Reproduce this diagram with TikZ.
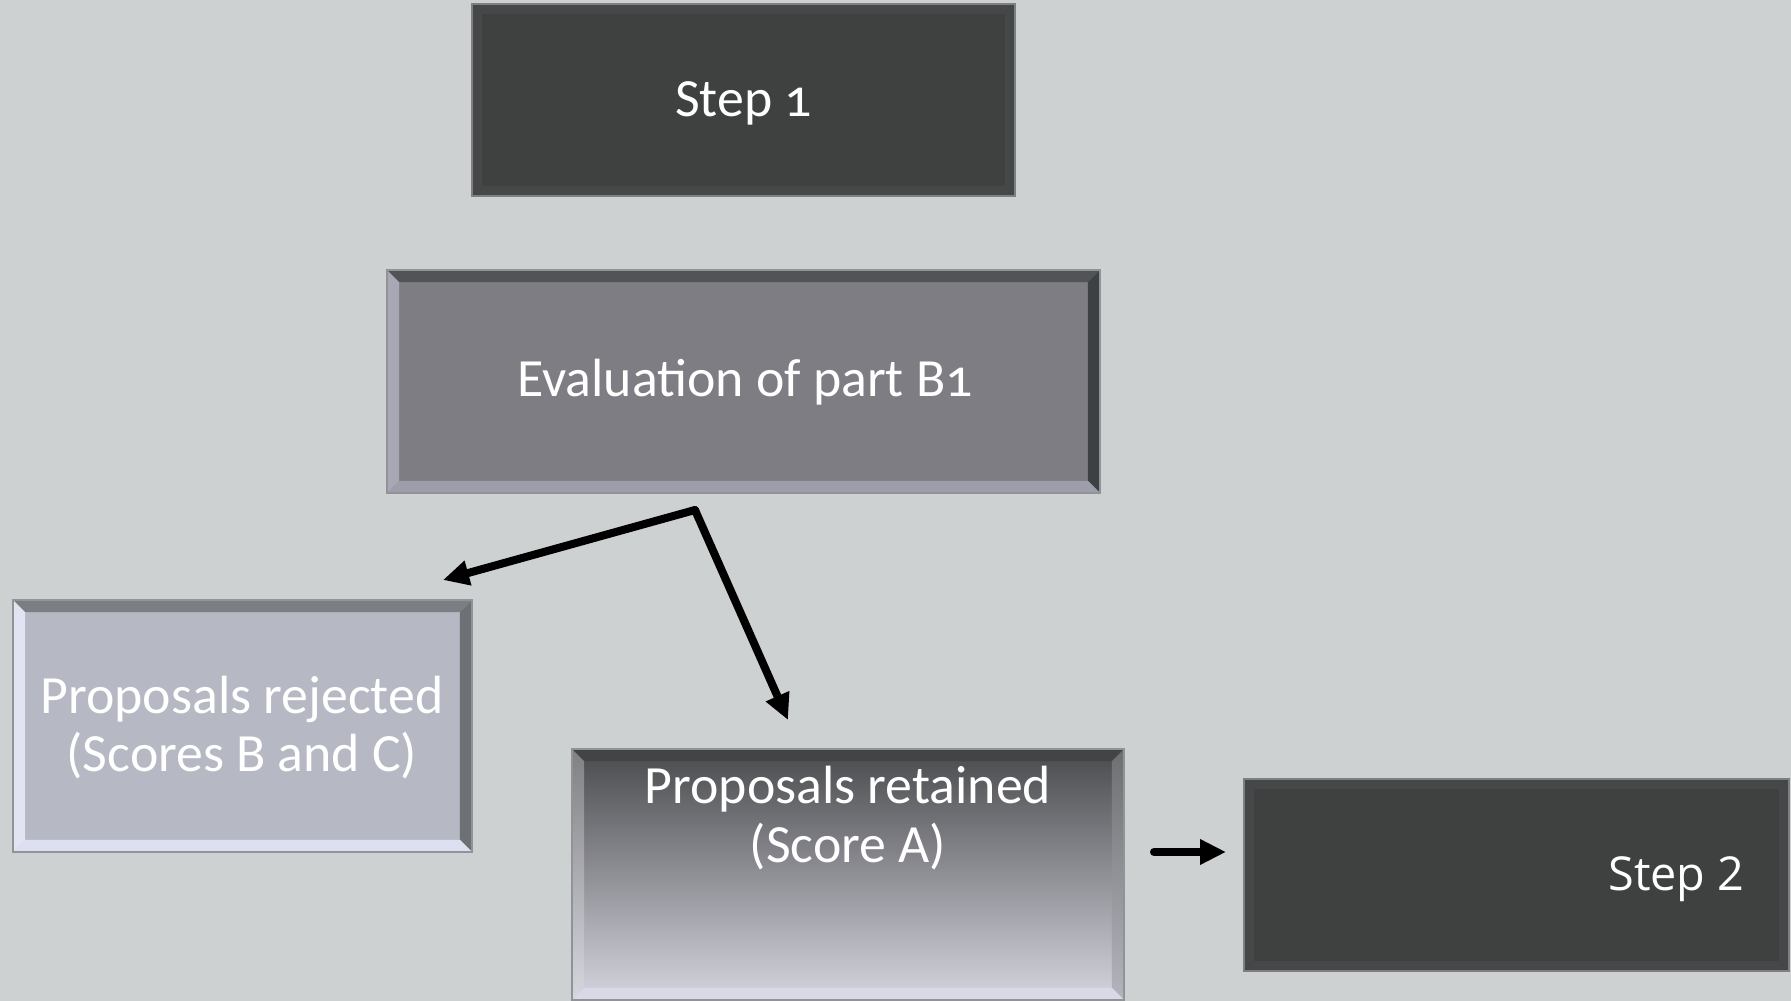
\documentclass[tikz,border=0pt]{standalone}
\usepackage{fontspec}
\setmainfont[Numbers=OldStyle]{Carlito}
\newfontfamily\stepfont{Open Sans}
\usetikzlibrary{calc,arrows.meta}
\definecolor{bg}{RGB}{205,209,210}
\definecolor{stepfill}{RGB}{63,65,65}
\definecolor{stepedge}{RGB}{69,71,72}
\definecolor{stepline}{RGB}{125,127,128}
\definecolor{evfill}{RGB}{126,125,131}
\definecolor{evtop}{RGB}{82,83,86}
\definecolor{evright}{RGB}{62,65,67}
\definecolor{evbottom}{RGB}{158,158,171}
\definecolor{evleft}{RGB}{168,168,181}
\definecolor{rejfill}{RGB}{182,185,195}
\definecolor{rejtop}{RGB}{123,126,131}
\definecolor{rejright}{RGB}{108,113,118}
\definecolor{rejbottom}{RGB}{221,224,240}
\definecolor{rejleft}{RGB}{226,228,243}
\definecolor{retA}{RGB}{74,75,78}
\definecolor{retB}{RGB}{212,212,222}
\definecolor{retbottom}{RGB}{216,216,230}
\definecolor{boxline}{RGB}{146,147,150}
\tikzset{
  box/.style={rectangle, inner sep=0pt, text=white, align=center, font=\fontsize{15.3}{17}\selectfont},
  txt/.style={inner sep=0pt, text=white, align=center, font=\fontsize{15.3}{16.6}\selectfont},
  arr/.style={line width=0.08cm, line cap=round, -{Triangle[length=0.26cm,width=0.24cm]}},
}
\newcommand\bevelbox[7]{%
  \path[#3] (#1.north west) -- (#1.north east) -- ($(#1.north east)+(-#2,-#2)$) -- ($(#1.north west)+(#2,-#2)$) -- cycle;
  \path[#4] (#1.north east) -- (#1.south east) -- ($(#1.south east)+(-#2,#2)$) -- ($(#1.north east)+(-#2,-#2)$) -- cycle;
  \path[#5] (#1.south east) -- (#1.south west) -- ($(#1.south west)+(#2,#2)$) -- ($(#1.south east)+(-#2,#2)$) -- cycle;
  \path[#6] (#1.south west) -- (#1.north west) -- ($(#1.north west)+(#2,-#2)$) -- ($(#1.south west)+(#2,#2)$) -- cycle;
  \draw[#7, line width=0.6pt] (#1.north west) rectangle (#1.south east);
}
\begin{document}
\begin{tikzpicture}[x=0.01cm, y=-0.01cm]
\fill[bg] (0,0) rectangle (1791,1001);
\useasboundingbox (0,0) rectangle (1791,1001);

% Step 1
\node[box, fill=stepfill, minimum width=5.41cm, minimum height=1.90cm] (s1) at (743.5,100) {};
\bevelbox{s1}{0.10cm}{fill=stepedge}{fill=stepedge}{fill=stepedge}{fill=stepedge}{stepline}
\node[txt] (s1t) at (743.5,103) {Step 1};

% Evaluation
\node[box, fill=evfill, minimum width=7.11cm, minimum height=2.21cm] (ev) at (743.5,381.5) {};
\bevelbox{ev}{0.12cm}{fill=evtop}{fill=evright}{fill=evbottom}{fill=evleft}{boxline}
\node[txt] (evt) at (745,382.5) {Evaluation of part B1};

% Rejected
\node[box, fill=rejfill, minimum width=4.57cm, minimum height=2.50cm] (rej) at (242.5,726) {};
\bevelbox{rej}{0.12cm}{fill=rejtop}{fill=rejright}{fill=rejbottom}{fill=rejleft}{boxline}
\node[txt] (rejt) at (242,727.5) {Proposals rejected\\(Scores B and C)};

% Retained
\node[box, top color=retA, bottom color=retB, minimum width=5.50cm, minimum height=2.49cm] (ret) at (848,874.5) {};
\bevelbox{ret}{0.12cm}{fill=retA!90!black}{top color=retA!80!white, bottom color=retB!85!black}{fill=retbottom}{top color=retA!70!white, bottom color=retB!95!white}{boxline}
\node[txt] (rett) at (848,818) {Proposals retained\\(Score A)};

% Step 2
\node[box, fill=stepfill, minimum width=5.43cm, minimum height=1.90cm] (s2) at (1516.5,875) {};
\bevelbox{s2}{0.10cm}{fill=stepedge}{fill=stepedge}{fill=stepedge}{fill=stepedge}{stepline}
\node[txt, anchor=east, font=\stepfont\fontsize{13.3}{16}\selectfont] (s2t) at (1745,879) {Step 2};

% connectors
\coordinate (split) at (695,510);
\coordinate (toRej) at (443,580);
\coordinate (toRet) at (788,720);
\coordinate (a0) at (1154,852);
\coordinate (a1) at (1226,852);
\draw[arr] (split) -- (toRej);
\draw[arr] (split) -- (toRet);
\draw[arr] (a0) -- (a1);
\end{tikzpicture}
\end{document}
